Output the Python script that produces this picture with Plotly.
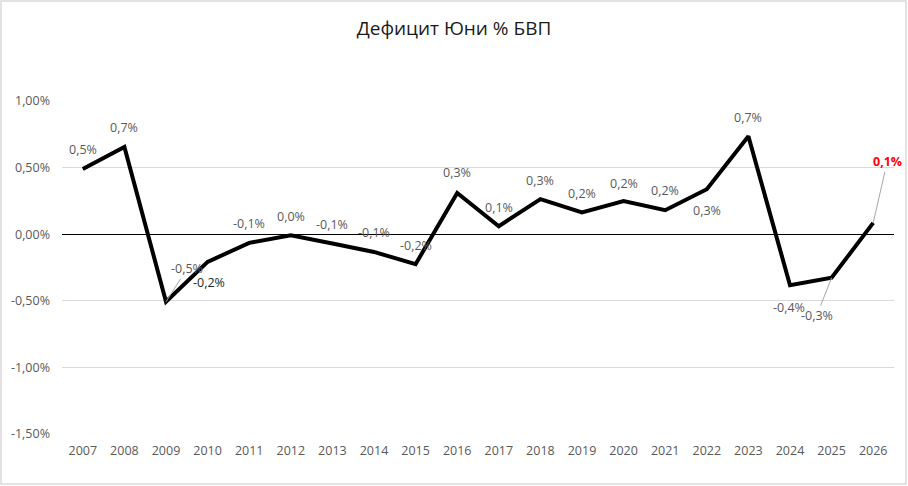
import plotly.graph_objects as go

years = [str(y) for y in range(2007, 2027)]
deficit = [0.49, 0.655, -0.507, -0.208, -0.065, -0.008, -0.07, -0.133, -0.225, 0.31,
           0.06, 0.263, 0.163, 0.248, 0.18, 0.338, 0.735, -0.383, -0.327, 0.085]
labels = ["0,5%", "0,7%", "-0,5%", "-0,2%", "-0,1%", "0,0%", "-0,1%", "-0,1%", "-0,2%", "0,3%",
          "0,1%", "0,3%", "0,2%", "0,2%", "0,2%", "0,3%", "0,7%", "-0,4%", "-0,3%", "0,1%"]
# label offsets in pixels (dx right, dy up)
label_dx = [0, 0, 21, 1, 0, 0, 0, 0, 0, 0, 0, 0, 0, 0, 0, 0, 0, -1, -15, 14]
label_dy = [19, 19, 33, -21, 19, 19, 19, 19, 19, 20, 19, 19, 19, 18, 20, -21, 19, -22, -38, 61]
leader = [False, False, True, False, False, False, False, False, False, False,
          False, False, False, False, False, False, False, False, True, True]

FONT = "Open Sans"
FS = 12.5
fig = go.Figure()
fig.add_trace(go.Scatter(x=years, y=deficit, mode="lines",
                         line=dict(color="#000000", width=4), hoverinfo="skip",
                         showlegend=False, cliponaxis=False))

ann = []
for i, (yr, v, t) in enumerate(zip(years, deficit, labels)):
    last = i == len(years) - 1
    color = "#ff0000" if last else ("#262626" if yr == "2010" else "#595959")
    txt = f"<b>{t}</b>" if last else t
    if leader[i]:
        ann.append(dict(x=i, y=v, xref="x", yref="y", text=txt, showarrow=True,
                        arrowhead=0, arrowwidth=1, arrowcolor="#a6a6a6",
                        ax=label_dx[i], ay=-label_dy[i], standoff=0,
                        font=dict(family=FONT, size=FS, color=color)))
    else:
        ann.append(dict(x=i, y=v, xref="x", yref="y", text=txt, showarrow=False,
                        xshift=label_dx[i], yshift=label_dy[i],
                        font=dict(family=FONT, size=FS, color=color)))

fig.update_layout(
    width=908, height=486,
    margin=dict(l=62, r=14, t=101, b=52),
    paper_bgcolor="white", plot_bgcolor="white",
    title=dict(text="Дефицит Юни % БВП", x=0.5, xanchor="center", y=1 - 28 / 486,
               yanchor="middle", font=dict(family=FONT, size=19, color="#1a1a1a")),
    xaxis=dict(type="category", showgrid=False, showline=False, zeroline=False,
               ticks="", tickfont=dict(family=FONT, size=FS, color="#595959"),
               ticklabelstandoff=7, range=[-0.5, 19.5]),
    yaxis=dict(range=[-1.5, 1.0], showgrid=True, gridcolor="#d9d9d9",
               gridwidth=1, zeroline=True, zerolinecolor="#000000", zerolinewidth=1.3,
               ticks="", showline=False, ticklabelstandoff=11,
               tickvals=[-1.5, -1.0, -0.5, 0, 0.5, 1.0],
               ticktext=["-1,50%", "-1,00%", "-0,50%", "0,00%", "0,50%", "1,00%"],
               tickfont=dict(family=FONT, size=FS, color="#595959")),
    annotations=ann,
    shapes=[dict(type="rect", xref="paper", yref="paper",
                 x0=-61 / 832, x1=(906 - 62) / 832, y0=-(484 - 434) / 333, y1=1 + (101 - 1) / 333,
                 line=dict(color="#d9d9d9", width=1.5), fillcolor="rgba(0,0,0,0)", layer="below")],
)

fig.write_html("out.html")
